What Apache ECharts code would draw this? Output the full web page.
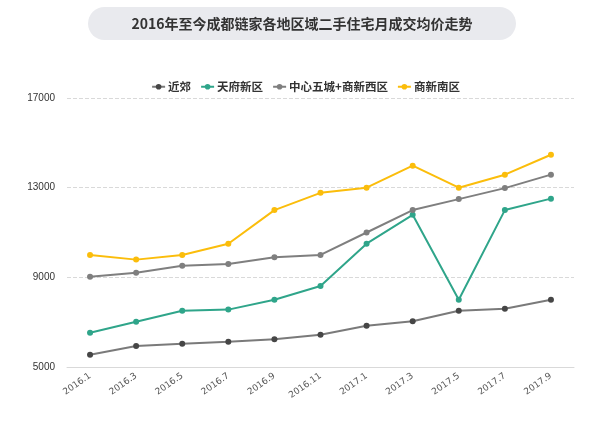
<!DOCTYPE html>
<html>
<head>
<meta charset="utf-8">
<script src="https://cdn.jsdelivr.net/npm/echarts@6/dist/echarts.min.js"></script>
<style>html,body{margin:0;padding:0;background:#fff;}#c{width:611px;height:427px;}</style>
</head>
<body>
<div id="c"></div>
<script>
const titleText = '2016年至今成都链家各地区域二手住宅月成交均价走势';
const categories = ['2016.1','2016.3','2016.5','2016.7','2016.9','2016.11','2017.1','2017.3','2017.5','2017.7','2017.9'];
const seriesNames = ['近郊','天府新区','中心五城+商新西区','商新南区'];
const jinjiao = [5550, 5940, 6040, 6130, 6235, 6440, 6840, 7040, 7510, 7600, 8000];
const tianfu = [6530, 7020, 7510, 7560, 8000, 8610, 10500, 11790, 8000, 12000, 12510];
const zhongxin = [9030, 9200, 9520, 9590, 9900, 10000, 11000, 12000, 12490, 12980, 13580];
const nanqu = [10000, 9790, 10000, 10500, 12000, 12770, 13000, 13980, 13000, 13580, 14470];
const yTicks = [5000, 9000, 13000, 17000];

const colors = ['#464646', '#2fa58a', '#7f7f7f', '#fbbd0b'];
const lineColors = ['#7a7a7a', '#2fa58a', '#7f7f7f', '#fbbd0b'];
const data = [jinjiao, tianfu, zhongxin, nanqu];

const chart = echarts.init(document.getElementById('c'));
chart.setOption({
  animation: false,
  graphic: [{
    type: 'rect',
    shape: {x: 88, y: 7, width: 428, height: 33, r: 16.5},
    style: {fill: '#e9eaee'}
  }, {
    type: 'text',
    x: 302, y: 23.5,
    style: {text: titleText, fill: '#333', font: 'bold 14px "Noto Sans CJK SC", sans-serif', align: 'center', verticalAlign: 'middle'}
  }],
  legend: {
    top: 76,
    left: 'center',
    itemWidth: 13,
    itemHeight: 7,
    itemGap: 9,
    textStyle: {fontSize: 11.5, fontWeight: 'bold', color: '#333', fontFamily: '"Noto Sans CJK SC", sans-serif', padding: [0, 0, 0, -2]},
    data: seriesNames
  },
  grid: {left: 67, right: 37, top: 98, bottom: 60, containLabel: false},
  xAxis: {
    type: 'category',
    data: categories,
    boundaryGap: true,
    axisLine: {lineStyle: {color: '#d9d9d9'}},
    axisTick: {show: false},
    axisLabel: {rotate: 35, fontSize: 9, color: '#555', interval: 0, margin: 8, fontFamily: 'DejaVu Sans'}
  },
  yAxis: {
    type: 'value',
    min: 5000, max: 17000, interval: 4000,
    axisLine: {show: false},
    axisTick: {show: false},
    axisLabel: {fontSize: 10, color: '#333', margin: 12, fontFamily: '"Liberation Sans Narrow", "Liberation Sans", sans-serif', formatter: v => String(v)},
    splitLine: {lineStyle: {type: 'dashed', color: '#d9d9d9'}}
  },
  series: seriesNames.map((n, i) => ({
    name: n,
    type: 'line',
    data: data[i],
    symbol: 'circle',
    symbolSize: 6,
    itemStyle: {color: colors[i]},
    lineStyle: {color: lineColors[i], width: 2}
  }))
});
</script>
</body>
</html>
